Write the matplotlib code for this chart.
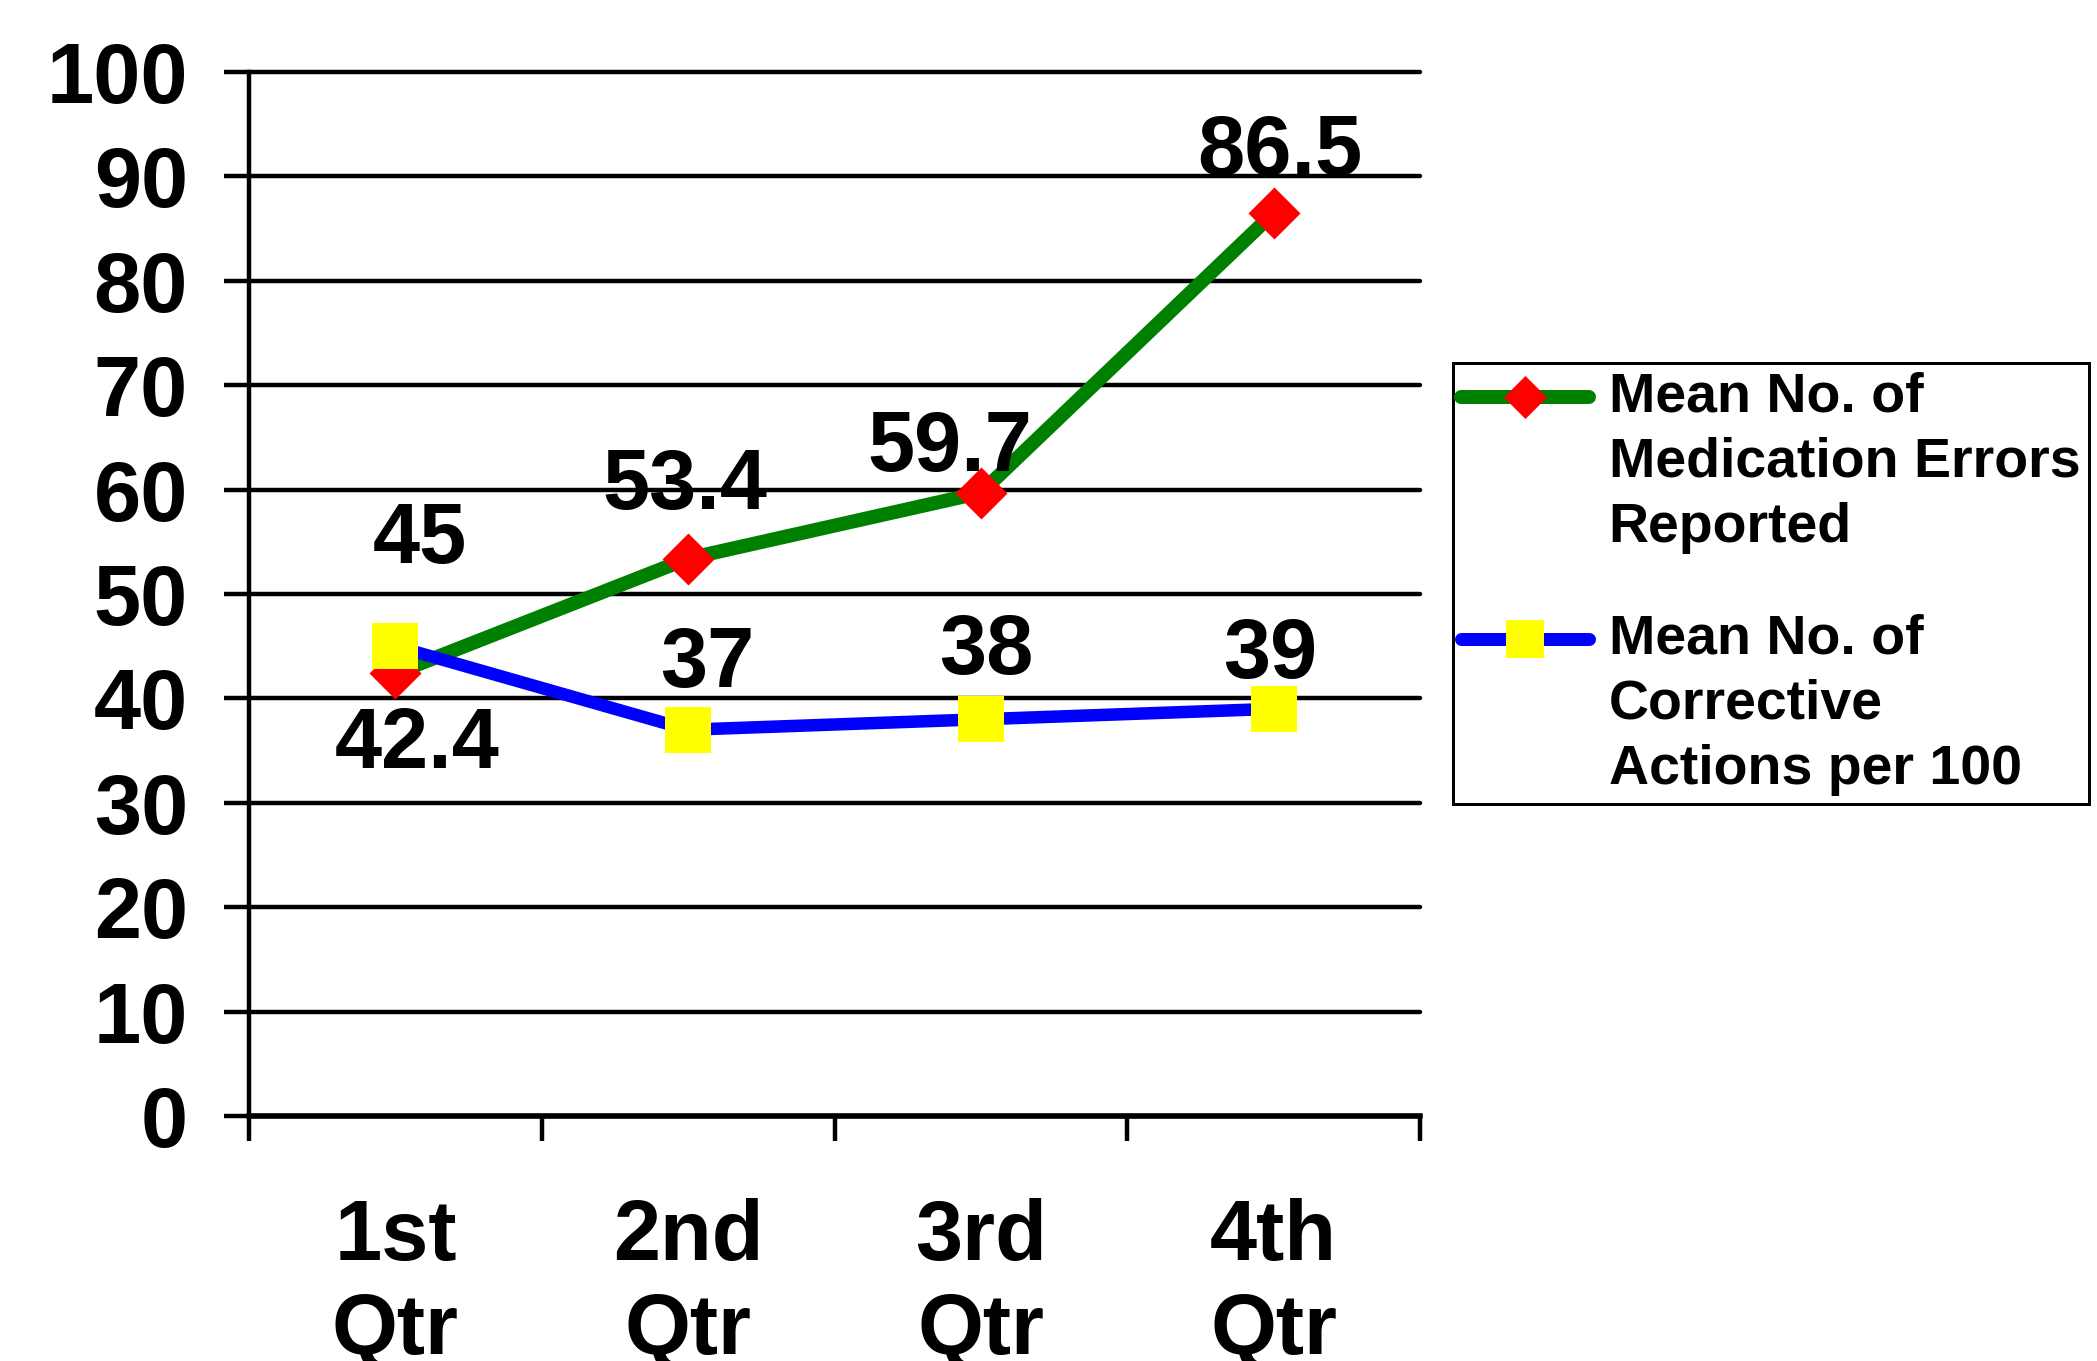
import numpy as np
import matplotlib
matplotlib.use("Agg")
import matplotlib.pyplot as plt
from matplotlib.legend_handler import HandlerLine2D

plt.rcParams['font.family'] = ['Liberation Sans', 'DejaVu Sans']
plt.rcParams['font.weight'] = 'bold'

# Datos por trimestre
trimestres = ['1st\nQtr', '2nd\nQtr', '3rd\nQtr', '4th\nQtr']
errores = [42.4, 53.4, 59.7, 86.5]
correctivas = [45, 37, 38, 39]
nombre_errores = 'Mean No. of\nMedication Errors\nReported'
nombre_correctivas = 'Mean No. of\nCorrective\nActions per 100'

# Desplazamiento de cada etiqueta respecto a su punto (px: derecha, abajo)
desp_errores = [(22, 64), (-3, -81), (-31, -53), (6, -69)]
desp_correctivas = [(25, -114), (19, -74), (5, -76), (-3, -62)]

PX = 72 / 100  # pixeles a puntos con dpi=100
W, H = 2097, 1361
rombo = [(0, 1), (1, 0), (0, -1), (-1, 0), (0, 1)]  # marcador rombo, alto = ms


class LineaDesplazada(HandlerLine2D):
    # Sube la muestra de la leyenda a la primera linea del texto
    def __init__(self, dy, lw, ms, **kw):
        super().__init__(**kw)
        self.dy, self.lw, self.ms = dy, lw, ms

    def create_artists(self, legend, orig_handle, xdescent, ydescent,
                       width, height, fontsize, trans):
        arts = super().create_artists(legend, orig_handle, xdescent, ydescent,
                                      width, height, fontsize, trans)
        for a in arts:
            a.set_ydata(np.asarray(a.get_ydata(), float) + self.dy)
            a.set_linewidth(self.lw)
            a.set_markersize(self.ms)
        return arts


fig = plt.figure(figsize=(W / 100, H / 100), dpi=100)
ax = fig.add_axes([249 / W, (H - 1116) / H, (1420 - 249) / W, (1116 - 72) / H])

x = np.arange(len(trimestres))
l1, = ax.plot(x, errores, color='#008000', lw=14 * PX, marker=rombo, ms=52 * PX,
              mfc='#FF0000', mec='#FF0000', mew=0, solid_capstyle='round',
              solid_joinstyle='round', zorder=3, label=nombre_errores)
l2, = ax.plot(x, correctivas, color='#0000FF', lw=12.5 * PX, marker='s', ms=47 * PX,
              mfc='#FFFF00', mec='#FFFF00', mew=0, solid_capstyle='round',
              solid_joinstyle='round', zorder=4, label=nombre_correctivas)

# Etiquetas de valor
for serie, desp in ((errores, desp_errores), (correctivas, desp_correctivas)):
    for xi, v, (dx, dy) in zip(x, serie, desp):
        ax.annotate(f'{v:g}', xy=(xi, v), xytext=(dx * PX, -(dy + 31) * PX),
                    textcoords='offset points', ha='center', va='baseline',
                    fontsize=61, fontweight='bold', zorder=5)

ax.set_xlim(-0.5, len(trimestres) - 0.5)
ax.set_ylim(0, 100)
ax.set_yticks(np.arange(0, 101, 10))
ax.set_xticks(x)
ax.set_xticklabels(trimestres, fontsize=61, fontweight='bold', linespacing=1.22)
ax.set_xticks(np.arange(-0.5, len(trimestres)), minor=True)
ax.tick_params(axis='x', which='major', length=0, pad=59)
ax.tick_params(axis='x', which='minor', length=25 * PX, width=3.2, direction='out')
ax.tick_params(axis='y', length=25 * PX, width=3.2, direction='out', pad=26,
               labelsize=61)
for t in ax.get_yticklabels():
    t.set_fontweight('bold')

ax.yaxis.grid(True, color='black', lw=3.2, solid_capstyle='round')
for gl in ax.get_ygridlines():
    gl.set_clip_on(False)
ax.set_axisbelow(True)

for s in ('top', 'right'):
    ax.spines[s].set_visible(False)
ax.spines['left'].set_linewidth(3.2)
ax.spines['bottom'].set_linewidth(4)

leg = fig.legend(handles=[l1, l2], loc='upper left',
                 bbox_to_anchor=(1453 / W, 1 - 363 / H), borderaxespad=0,
                 prop={'family': 'Liberation Sans', 'weight': 'bold', 'size': 40},
                 frameon=True, fancybox=False, edgecolor='black', framealpha=1,
                 borderpad=0.15, handlelength=2.3, handletextpad=0.35,
                 labelspacing=1.07,
                 handler_map={l1: LineaDesplazada(66 * PX, 14 * PX, 43 * PX, numpoints=1),
                              l2: LineaDesplazada(66 * PX, 13 * PX, 38 * PX, numpoints=1)})
for t in leg.get_texts():
    t.set_linespacing(1.33)
leg.get_frame().set_linewidth(3 * PX)

fig.savefig('out.png', dpi=100, facecolor='white')
